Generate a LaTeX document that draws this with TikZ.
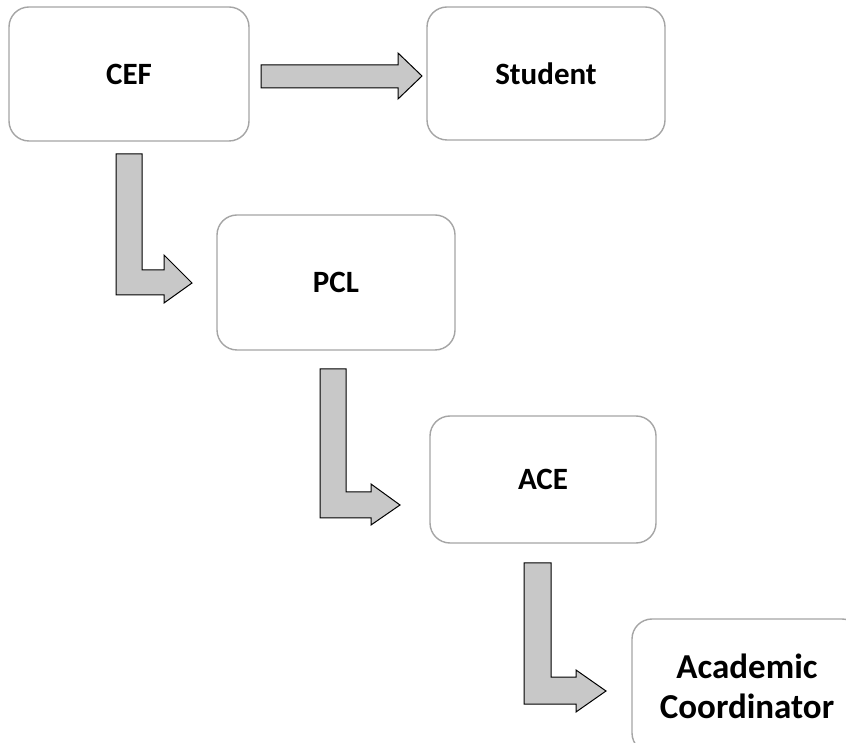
\documentclass[tikz,border=0pt]{standalone}
\usepackage{fontspec}
\setmainfont{Carlito}
\begin{document}
\begin{tikzpicture}[x=1pt,y=1pt,
  box/.style={draw={rgb,255:red,165;green,165;blue,165},line width=1.4pt,rounded corners=20pt,
    fill=white,inner sep=0pt,font=\fontsize{31}{36}\selectfont\bfseries,align=center},
  blockarrow/.style={draw=black,line width=1pt,fill={rgb,255:red,200;green,200;blue,200},line join=miter}]
\useasboundingbox (0,0) rectangle (846,742);
\clip (0,0) rectangle (846,742);
\fill[white] (0,0) rectangle (846,742);
\node[box,minimum width=240pt,minimum height=134pt] (cef) at (129,668) {CEF};
\node[box,minimum width=238pt,minimum height=133pt] (student) at (546,668.5) {Student};
\node[box,minimum width=238pt,minimum height=135pt] (pcl) at (336,459.5) {PCL};
\node[box,minimum width=226pt,minimum height=127pt] (ace) at (543,262.5) {ACE};
\node[box,minimum width=230pt,minimum height=134pt,font=\fontsize{35}{40}\selectfont\bfseries] (ac) at (747,56) {Academic\\Coordinator};
% arrows
\coordinate (h0) at (261,654);
\draw[blockarrow] (h0) -- (398,654) -- (398,643) -- (422,666) -- (398,689) -- (398,677) -- (261,677) -- cycle;
\coordinate (a1) at (116,588);
\draw[blockarrow] (a1) -- (142,588) -- (142,472) -- (164,472) -- (164,487) -- (192,459) -- (164,439) -- (164,447) -- (116,447) -- cycle;
\coordinate (a2) at (320,373);
\draw[blockarrow] (a2) -- (346,373) -- (346,250) -- (371,250) -- (371,258) -- (400,237) -- (371,217) -- (371,224) -- (320,224) -- cycle;
\coordinate (a3) at (524,179);
\draw[blockarrow] (a3) -- (551,179) -- (551,65) -- (576,65) -- (576,72) -- (606,51) -- (576,30) -- (576,38) -- (524,38) -- cycle;
\end{tikzpicture}
\end{document}
